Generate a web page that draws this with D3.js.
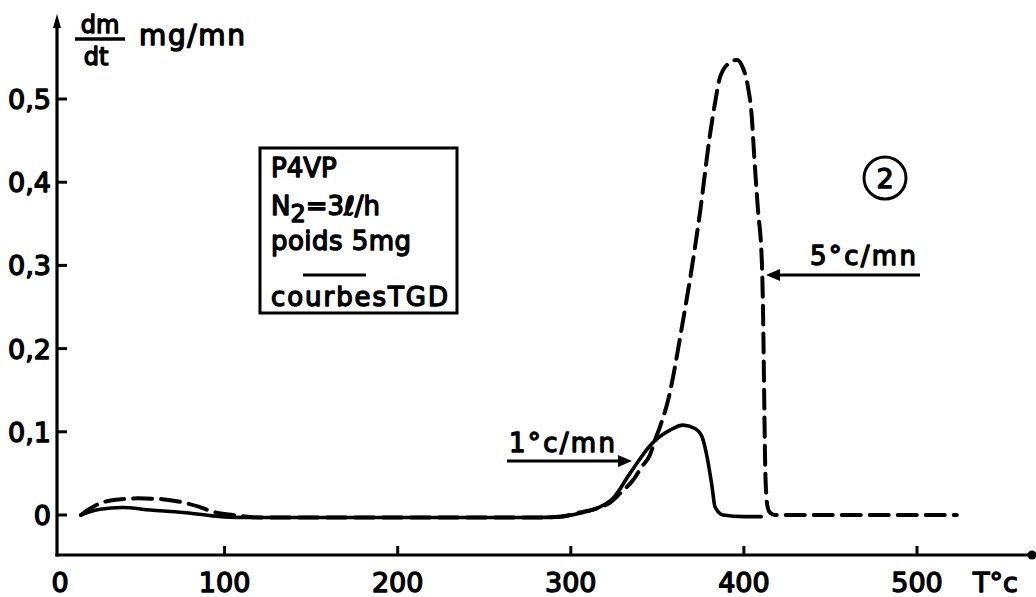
<!DOCTYPE html>
<html>
<head>
<meta charset="utf-8">
<script src="https://cdn.jsdelivr.net/npm/d3@7"></script>
<style>
  html, body { margin: 0; padding: 0; background: #fff; }
  svg { display: block; }
  text { font-family: "DejaVu Sans", sans-serif; fill: #000; stroke: #000; stroke-width: 1.4px; stroke-linejoin: round; }
</style>
</head>
<body>
<svg id="chart" width="1036" height="597"></svg>
<script>
// Derivative thermogravimetric curves of P4VP (dm/dt vs temperature)

// heating rate 1 °C/min (solid curve)
const temp1 = [17, 22, 28, 41, 57, 76, 93, 110, 200, 282, 294, 307, 315, 324.4, 334.2, 346.9, 357.3, 364.8, 371.7, 375.8, 378.7, 381.6, 383.3, 388, 400, 410];
const rate1 = [0, 0.004, 0.007, 0.009, 0.006, 0.003, -0.001, -0.003, -0.003, -0.003, -0.002, 0.003, 0.008, 0.020, 0.050, 0.086, 0.102, 0.108, 0.104, 0.094, 0.070, 0.034, 0.010, 0.000, -0.002, -0.002];

// heating rate 5 °C/min (dashed curve)
const temp5 = [17, 21, 28, 40, 50, 64, 76, 85, 93, 105, 120, 200, 282, 294, 305, 315, 322, 328.4, 336, 341, 345.7, 348.6, 351.5, 356.2, 364.2, 374.6, 380.4, 383.3, 386.2, 392, 396, 399.5, 402.4, 404.5, 406, 408, 410.4, 411.2, 411.8, 412.4, 413.5, 415, 418, 450, 523];
const rate5 = [0, 0.006, 0.014, 0.019, 0.020, 0.019, 0.015, 0.010, 0.004, 0.000, -0.003, -0.003, -0.003, -0.002, 0.003, 0.008, 0.014, 0.026, 0.042, 0.058, 0.072, 0.090, 0.106, 0.138, 0.226, 0.363, 0.457, 0.495, 0.526, 0.544, 0.547, 0.537, 0.514, 0.480, 0.430, 0.370, 0.303, 0.226, 0.130, 0.050, 0.012, 0.003, 0, 0, 0];

// axis ticks
const xTicks = [0, 100, 200, 300, 400, 500];
const xTickLabels = ["0", "100", "200", "300", "400", "500"];
const yTicks = [0, 0.1, 0.2, 0.3, 0.4, 0.5];
const yTickLabels = ["0", "0,1", "0,2", "0,3", "0,4", "0,5"];

// annotation texts
const boxLines = ["P4VP", "poids 5mg", "courbesTGD"];
const rateLabels = ["1°c/mn", "5°c/mn"];

const svg = d3.select("#chart");

const x = d3.scaleLinear().domain([0, 500]).range([51.5, 917]);
const y = d3.scaleLinear().domain([0, 0.5]).range([515, 99]);

const axisX = 57;         // vertical axis position
const axisY = 555;        // horizontal axis position
const ink = "#000";

// axes lines
svg.append("line").attr("x1", axisX).attr("x2", axisX).attr("y1", 20).attr("y2", axisY + 1.5)
  .attr("stroke", ink).attr("stroke-width", 3.2);
svg.append("path").attr("d", `M${axisX - 4},${28} L${axisX},${14} L${axisX + 4},${28} Z`).attr("fill", ink);
svg.append("line").attr("x1", axisX - 1.5).attr("x2", 1032).attr("y1", axisY).attr("y2", axisY)
  .attr("stroke", ink).attr("stroke-width", 3.2);
svg.append("circle").attr("cx", 1032).attr("cy", axisY).attr("r", 4.5).attr("fill", ink);

// y ticks and labels
svg.selectAll(".ytick").data(yTicks).join("line")
  .attr("x1", axisX).attr("x2", axisX + 10)
  .attr("y1", d => y(d)).attr("y2", d => y(d))
  .attr("stroke", ink).attr("stroke-width", 3);
svg.selectAll(".ylab").data(yTicks).join("text")
  .attr("x", 51).attr("y", d => y(d) + 10)
  .attr("text-anchor", "end").attr("font-size", 27)
  .text((d, i) => yTickLabels[i]);

// x ticks and labels
svg.selectAll(".xtick").data(xTicks.filter(d => d > 0)).join("line")
  .attr("x1", d => x(d)).attr("x2", d => x(d))
  .attr("y1", axisY).attr("y2", axisY - 9)
  .attr("stroke", ink).attr("stroke-width", 3);
svg.selectAll(".xlab").data(xTicks).join("text")
  .attr("x", d => d === 0 ? axisX + 3 : x(d)).attr("y", 592)
  .attr("text-anchor", "middle").attr("font-size", 27)
  .text((d, i) => xTickLabels[i]);

// axis titles
svg.append("text").attr("x", 100).attr("y", 33).attr("text-anchor", "middle").attr("font-size", 24).text("dm");
svg.append("line").attr("x1", 75).attr("x2", 125).attr("y1", 39).attr("y2", 39).attr("stroke", ink).attr("stroke-width", 3.4);
svg.append("text").attr("x", 96).attr("y", 65).attr("text-anchor", "middle").attr("font-size", 24).text("dt");
svg.append("text").attr("x", 139).attr("y", 45).attr("font-size", 28).attr("textLength", 106).text("mg/mn");
svg.append("text").attr("x", 973).attr("y", 592).attr("font-size", 27).text("T°c");

// curves
const line = d3.line().x(d => x(d[0])).y(d => y(d[1])).curve(d3.curveMonotoneX);
svg.append("path").datum(temp5.map((t, i) => [t, rate5[i]]))
  .attr("d", line).attr("fill", "none").attr("stroke", ink)
  .attr("stroke-width", 4).attr("stroke-dasharray", "19,9").attr("stroke-linecap", "round");
svg.append("path").datum(temp1.map((t, i) => [t, rate1[i]]))
  .attr("d", line).attr("fill", "none").attr("stroke", ink)
  .attr("stroke-width", 3.6).attr("stroke-linecap", "round");

// legend box
svg.append("rect").attr("x", 260).attr("y", 148).attr("width", 197).attr("height", 165)
  .attr("fill", "none").attr("stroke", ink).attr("stroke-width", 3);
svg.append("text").attr("x", 271).attr("y", 177).attr("font-size", 26).text(boxLines[0]);
const n2 = svg.append("text").attr("x", 271).attr("y", 215).attr("font-size", 26);
n2.append("tspan").text("N");
n2.append("tspan").attr("dy", 7).attr("font-size", 24).text("2");
n2.append("tspan").attr("dy", -7).text("=3ℓ/h");
svg.append("text").attr("x", 271).attr("y", 250).attr("font-size", 26).attr("textLength", 140).text(boxLines[1]);
svg.append("line").attr("x1", 303).attr("x2", 366).attr("y1", 275).attr("y2", 275).attr("stroke", ink).attr("stroke-width", 3);
svg.append("text").attr("x", 271).attr("y", 306).attr("font-size", 26).attr("textLength", 177).text(boxLines[2]);

// rate annotations with arrows
svg.append("text").attr("x", 509).attr("y", 452).attr("font-size", 26).attr("textLength", 106).text(rateLabels[0]);
svg.append("line").attr("x1", 507).attr("x2", 622).attr("y1", 461).attr("y2", 461).attr("stroke", ink).attr("stroke-width", 3);
svg.append("path").attr("d", "M618,455 L632,461 L618,467 Z").attr("fill", ink);

svg.append("text").attr("x", 810).attr("y", 265).attr("font-size", 26).attr("textLength", 106).text(rateLabels[1]);
svg.append("line").attr("x1", 776).attr("x2", 920).attr("y1", 275).attr("y2", 275).attr("stroke", ink).attr("stroke-width", 3);
svg.append("path").attr("d", "M780,269 L766,275 L780,281 Z").attr("fill", ink);

// figure number
svg.append("circle").attr("cx", 885).attr("cy", 178).attr("r", 21).attr("fill", "none").attr("stroke", ink).attr("stroke-width", 3);
svg.append("text").attr("x", 885).attr("y", 188).attr("text-anchor", "middle").attr("font-size", 27).text("2");
</script>
</body>
</html>
